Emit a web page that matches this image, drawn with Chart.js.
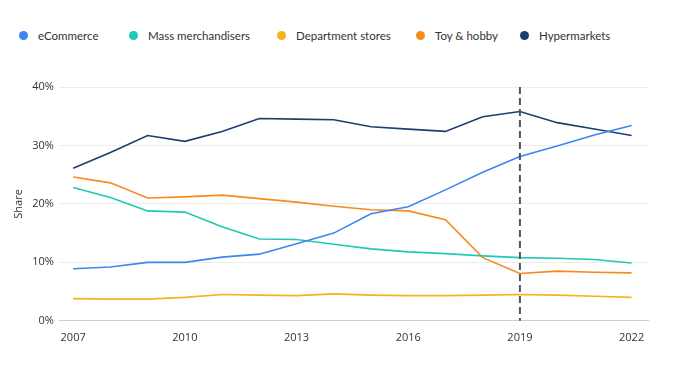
<!DOCTYPE html>
<html><head><meta charset="utf-8">
<script src="https://cdn.jsdelivr.net/npm/chart.js@4/dist/chart.umd.min.js"></script>
<style>
html,body{margin:0;padding:0;background:#fff;}
#wrap{position:relative;width:694px;height:386px;}
#legend{position:absolute;left:0;top:29px;width:694px;height:16px;font-family:Lato,"Noto Sans",sans-serif;font-size:11.5px;color:#333;}
.item{position:absolute;top:0;display:flex;align-items:center;white-space:nowrap;}
.dot{width:9px;height:9px;border-radius:50%;margin-right:10px;}
canvas{position:absolute;left:0;top:0;}
</style></head>
<body>
<div id="wrap"><div id="legend"></div><canvas id="c" width="694" height="386"></canvas></div>
<script>
const years = [2007,2008,2009,2010,2011,2012,2013,2014,2015,2016,2017,2018,2019,2020,2021,2022];
const eCommerce = [8.9,9.2,10.0,10.0,10.9,11.4,13.2,15.0,18.3,19.5,22.4,25.4,28.1,29.9,31.8,33.4];
const massMerch = [22.8,21.1,18.8,18.6,16.1,14.0,13.9,13.1,12.3,11.8,11.5,11.1,10.8,10.7,10.5,9.9];
const deptStores = [3.8,3.7,3.7,4.0,4.5,4.4,4.3,4.6,4.4,4.3,4.3,4.4,4.5,4.4,4.2,4.0];
const toyHobby = [24.6,23.6,21.0,21.2,21.5,20.9,20.3,19.6,19.0,18.8,17.3,10.8,8.1,8.5,8.3,8.2];
const hypermarkets = [26.1,28.8,31.7,30.7,32.4,34.6,34.5,34.4,33.2,32.8,32.4,34.9,35.8,33.9,32.8,31.7];
const xTicks = [2007,2010,2013,2016,2019,2022];
const yTicks = [0,10,20,30,40];
const markerYear = 2019;

const series = [
  {label:'eCommerce', data:eCommerce, color:'#3d86ef'},
  {label:'Mass merchandisers', data:massMerch, color:'#20c9b2'},
  {label:'Department stores', data:deptStores, color:'#f5b320'},
  {label:'Toy & hobby', data:toyHobby, color:'#f58a1e'},
  {label:'Hypermarkets', data:hypermarkets, color:'#1c3f70'}
];
// legend item left edges (layout only)
const legendLeft = [19, 129, 277, 416, 520];

const legend = document.getElementById('legend');
series.forEach((s,i)=>{
  const it=document.createElement('div');it.className='item';it.style.left=legendLeft[i]+'px';
  const d=document.createElement('span');d.className='dot';d.style.background=s.color;
  const t=document.createElement('span');t.textContent=s.label;
  it.appendChild(d);it.appendChild(t);legend.appendChild(it);
});

const markerLine = {
  id:'markerLine',
  afterDatasetsDraw(chart){
    const {ctx, chartArea, scales} = chart;
    const x = scales.x.getPixelForValue(markerYear);
    ctx.save();
    ctx.strokeStyle='#555';
    ctx.lineWidth=2;
    ctx.setLineDash([7,4]);
    ctx.beginPath();
    ctx.moveTo(x, chartArea.top);
    ctx.lineTo(x, chartArea.bottom);
    ctx.stroke();
    ctx.restore();
  }
};

const font = {family:'"Segoe UI", "Open Sans", "Noto Sans", sans-serif', size:11};

new Chart(document.getElementById('c'), {
  type:'line',
  data:{
    datasets: series.map(s=>({
      label:s.label,
      data:years.map((y,i)=>({x:y,y:s.data[i]})),
      borderColor:s.color,
      backgroundColor:s.color,
      borderWidth:1.6,
      pointRadius:0,
      tension:0
    }))
  },
  options:{
    responsive:false,
    animation:false,
    layout:{padding:{top:87,right:46,bottom:32,left:8}},
    plugins:{legend:{display:false},tooltip:{enabled:false}},
    scales:{
      x:{
        type:'linear',
        min:2006.643, max:2022.44,
        afterBuildTicks(scale){ scale.ticks = xTicks.map(v=>({value:v})); },
        ticks:{callback:v=>String(v), color:'#333', font, padding:10, maxRotation:0},
        grid:{display:false, drawTicks:false},
        border:{display:true, color:'#cfcfcf', width:1}
      },
      y:{
        min:0, max:40,
        afterBuildTicks(scale){ scale.ticks = yTicks.map(v=>({value:v})); },
        ticks:{callback:v=>v+'%', color:'#333', font, padding:6},
        grid:{color:'#ececec', drawTicks:false},
        border:{display:false},
        title:{display:true, text:'Share', color:'#333', font:{family:font.family,size:11}, padding:{top:4,bottom:1}}
      }
    }
  },
  plugins:[markerLine]
});
</script>
</body></html>
